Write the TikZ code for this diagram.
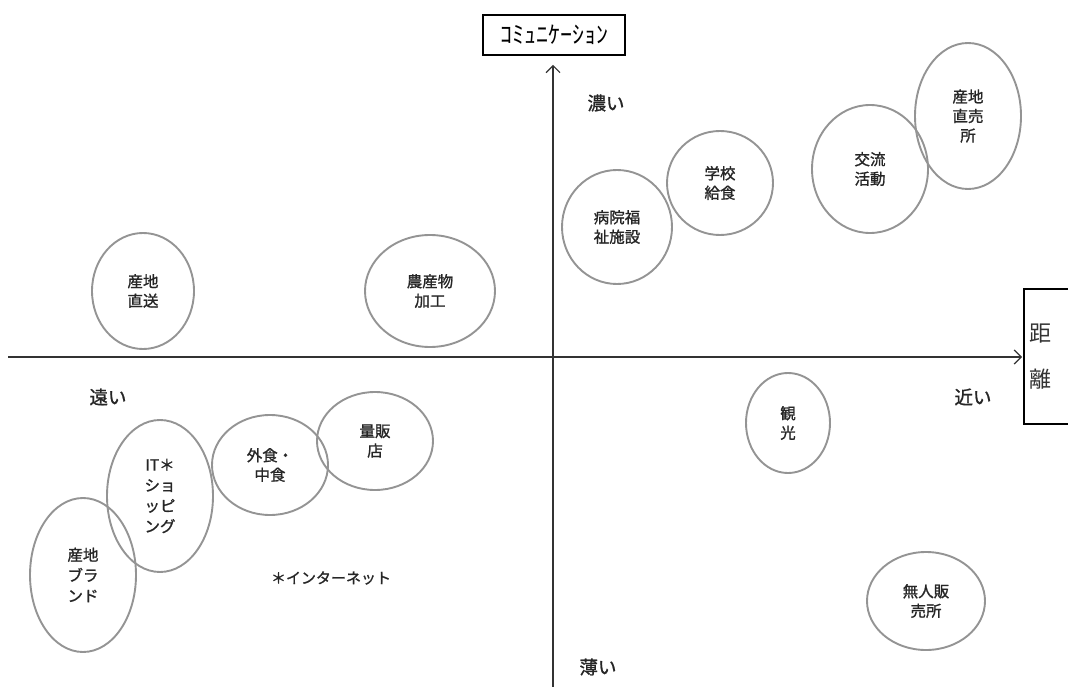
\documentclass[tikz,border=0pt]{standalone}
\usepackage{fontspec}
\newfontfamily\jp{Noto Sans CJK JP}
\newfontfamily\jpb[FakeBold=1.2]{Noto Sans CJK JP}
\usetikzlibrary{shapes.geometric,arrows.meta}
\begin{document}
\begin{tikzpicture}[x=1pt,y=-1pt,
  bub/.style={draw=black!42, line width=1.9pt, ellipse, inner sep=0pt, align=center,
    font=\jpb\fontsize{15.5}{19.5}\selectfont, text=black!85},
  lbl/.style={font=\jpb\fontsize{18.5}{20}\selectfont, inner sep=0pt, text=black!85},
  axis/.style={draw=black!80, line width=1.3pt, -{Straight Barb[length=7pt,width=14pt,line width=1.2pt]}}]
\useasboundingbox[fill=white] (0,0) rectangle (1068,687);

% label boxes
\node[draw, line width=1.6pt, minimum width=142, minimum height=40, inner sep=0pt,
  font=\jp\fontsize{24}{26}\selectfont] (comm) at (554,35) {ｺﾐｭﾆｹｰｼｮﾝ};
\node[draw, line width=1.6pt, anchor=north west, minimum height=135, text width=52,
  align=left, inner xsep=6pt, font=\jp\fontsize{22}{46}\selectfont, text=black!80] (dist) at (1023,288) {距\\離};

% axes
\coordinate (vbot) at (553,690);
\coordinate (hleft) at (8,357);
\draw[axis, shorten >=9pt] (vbot) -- (vbot |- comm.south);
\draw[axis, shorten >=1pt] (hleft) -- (hleft -| dist.west);

% axis labels
\node[lbl] (koi) at (606,103) {濃い};
\node[lbl] (usui) at (598,667) {薄い};
\node[lbl] (toi) at (108,397) {遠い};
\node[lbl] (chikai) at (973,397) {近い};
\node[font=\jpb\fontsize{15}{17}\selectfont, inner sep=0pt, text=black!85] (net) at (331,578) {＊インターネット};

% bubbles
\node[bub, minimum width=102, minimum height=116] (chokuso) at (143,291) {産地\\直送};
\node[bub, minimum width=130, minimum height=112] (kako) at (430,291) {農産物\\加工};
\node[bub, minimum width=110, minimum height=114] (byoin) at (617,227) {病院福\\祉施設};
\node[bub, minimum width=106, minimum height=104] (gakko) at (720,183) {学校\\給食};
\node[bub, minimum width=116, minimum height=128] (koryu) at (870,169) {交流\\活動};
\node[bub, minimum width=106, minimum height=146] (chokubai) at (968,116) {産地\\直売\\所};
\node[bub, minimum width=84, minimum height=100] (kanko) at (788,423) {観\\光};
\node[bub, minimum width=118, minimum height=98] (mujin) at (926,601) {無人販\\売所};
\node[bub, minimum width=116, minimum height=98] (ryohan) at (375,441) {量販\\店};
\node[bub, minimum width=116, minimum height=100] (gaishoku) at (270,465) {外食・\\中食};
\node[bub, minimum width=106, minimum height=152, font=\jpb\fontsize{15.5}{20.5}\selectfont] (it) at (160,496) {IT＊\\ショ\\ッピ\\ング};
\node[bub, minimum width=106, minimum height=154, font=\jpb\fontsize{15.5}{20.5}\selectfont] (brand) at (83,575) {産地\\ブラ\\ンド};
\end{tikzpicture}
\end{document}
